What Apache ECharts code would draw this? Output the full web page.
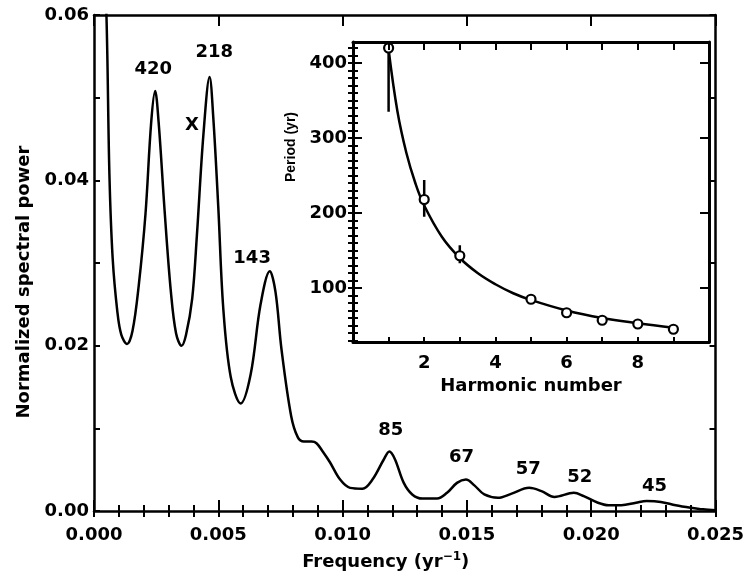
<!DOCTYPE html>
<html>
<head>
<meta charset="utf-8">
<script src="https://cdn.jsdelivr.net/npm/echarts@6/dist/echarts.min.js"></script>
<style>html,body{margin:0;padding:0;background:#fff;}#c{width:747px;height:577px;}</style>
</head>
<body>
<div id="c"></div>
<script>
// ---- Main spectrum ----
const freq = [0.0003,0.0005,0.00062,0.00075,0.00094,0.0011,0.00133,0.00155,0.0018,0.00207,0.0023,0.00246,0.0026,0.00285,0.00309,0.0033,0.00352,0.0037,0.00395,0.00414,0.0044,0.00465,0.0048,0.0050,0.0052,0.0055,0.0059,0.0063,0.0067,0.00707,0.0073,0.00754,0.00793,0.0082,0.00844,0.00875,0.00895,0.0092,0.00949,0.0099,0.0103,0.0108,0.0112,0.01165,0.01188,0.0121,0.01246,0.0128,0.0132,0.0138,0.0142,0.0146,0.01496,0.0153,0.0157,0.01625,0.0168,0.0175,0.0180,0.01852,0.0193,0.0197,0.02027,0.0207,0.02121,0.0218,0.02223,0.0228,0.0234,0.0240,0.0245,0.0250];
const power = [0.075,0.060,0.0407,0.0306,0.0241,0.0213,0.0202,0.0218,0.0273,0.0359,0.047,0.0508,0.047,0.0359,0.0266,0.0215,0.0200,0.0213,0.0257,0.0334,0.0455,0.0525,0.0475,0.0367,0.0245,0.0162,0.0130,0.0165,0.025,0.029,0.0265,0.0196,0.0115,0.0089,0.0084,0.0084,0.0082,0.0072,0.0059,0.0038,0.0028,0.0027,0.0038,0.0062,0.0072,0.0063,0.0034,0.0020,0.0015,0.0015,0.0022,0.0034,0.0038,0.0031,0.0020,0.0016,0.0021,0.0028,0.0024,0.0017,0.0022,0.0018,0.0010,0.0007,0.0007,0.0010,0.0012,0.0011,0.0007,0.0004,0.0002,0.0001];

// ---- Peak annotations ----
const peakText = ['420','218','X','143','85','67','57','52','45'];
const peakTextFreq = [0.00238,0.00484,0.00394,0.00636,0.01194,0.01478,0.01747,0.01954,0.02255];
const peakTextPower = [0.0534,0.0555,0.0467,0.0306,0.0098,0.0065,0.0050,0.0041,0.0030];

// ---- Inset ----
const harmonic = [1,2,3,5,6,7,8,9];
const period = [420,218,143,85,67,57,52,45];
const errHarmonic = [1,2,3];
const errLow = [335,195,133];
const errHigh = [430,244,157];
const fitN = [1,1.25,1.5,1.75,2,2.5,3,3.5,4,4.5,5,6,7,8,9];
const fitP = [418,335,280,240,210,168,140,120,105,93,84,70,60,53,47];

// tick labels / positions
const mainYTicks = ['0.00','0.02','0.04','0.06'];
const insetYLabels = [100,200,300,400];
const insetYMinor = [30,40,50,60,70,80,90,100,110,120,130,140,150,160,170,180,190,200,210,220,230,240,250,260,270,280,290,300,310,320,330,340,350,360,370,380,390,400,410,420];

const FONT = 'DejaVu Sans';
const black = '#000';
const tickLbl = {color: black, fontFamily: FONT, fontWeight: 'bold', fontSize: 18};

const chart = echarts.init(document.getElementById('c'), null, {renderer: 'canvas'});

const option = {
  animation: false,
  backgroundColor: '#fff',
  grid: [
    {left: 94, right: 12, top: 15, bottom: 66, containLabel: false},
    {left: 353, right: 38, top: 42, bottom: 235, show: false}
  ],
  xAxis: [
    {gridIndex: 0, type: 'value', position: 'bottom', min: 0, max: 0.025, interval: 0.005,
     axisLine: {show: true, onZero: false, lineStyle: {color: black, width: 2.5}},
     axisTick: {show: true, inside: true, length: 11, lineStyle: {color: black, width: 2}},
     axisLabel: Object.assign({margin: 15, formatter: v => v.toFixed(3)}, tickLbl),
     splitLine: {show: false},
     name: '{a|Frequency (yr}{s|−1}{a|)}', nameLocation: 'middle', nameGap: 40,
     nameTextStyle: {padding: [0, 38, 0, 0], rich: {
       a: {fontFamily: FONT, fontWeight: 'bold', fontSize: 18, color: black},
       s: {fontFamily: FONT, fontWeight: 'bold', fontSize: 12, color: black, padding: [0, 0, 10, 0]}
     }}},
    {gridIndex: 0, type: 'value', position: 'bottom', min: 0, max: 0.025, interval: 0.001,
     axisLine: {show: false}, axisLabel: {show: false}, splitLine: {show: false},
     axisTick: {show: true, inside: true, length: 6, lineStyle: {color: black, width: 2}}},
    {gridIndex: 0, type: 'value', position: 'top', min: 0, max: 0.025, interval: 0.005,
     axisLine: {show: true, onZero: false, lineStyle: {color: black, width: 2.5}},
     axisTick: {show: true, inside: true, length: 11, lineStyle: {color: black, width: 2}},
     axisLabel: {show: false}, splitLine: {show: false}},
    {gridIndex: 0, type: 'value', position: 'top', min: 0, max: 0.025, interval: 0.001,
     axisLine: {show: false}, axisLabel: {show: false}, splitLine: {show: false},
     axisTick: {show: true, inside: true, length: 6, lineStyle: {color: black, width: 2}}},
    // inset x
    {gridIndex: 1, type: 'value', position: 'bottom', min: 0, max: 10, interval: 1, z: 10,
     axisLine: {show: true, onZero: false, lineStyle: {color: black, width: 3}},
     axisTick: {show: true, inside: true, length: 5, lineStyle: {color: black, width: 2}},
     axisLabel: Object.assign({margin: 12, formatter: v => (v % 2 === 0 && v > 0 && v < 10) ? String(v) : ''}, tickLbl),
     splitLine: {show: false},
     name: 'Harmonic number', nameLocation: 'middle', nameGap: 35,
     nameTextStyle: {fontFamily: FONT, fontWeight: 'bold', fontSize: 18, color: black}},
    {gridIndex: 1, type: 'value', position: 'top', min: 0, max: 10, interval: 1, z: 10,
     axisLine: {show: true, onZero: false, lineStyle: {color: black, width: 3}},
     axisTick: {show: true, inside: true, length: 8, lineStyle: {color: black, width: 2}},
     axisLabel: {show: false}, splitLine: {show: false}}
  ],
  yAxis: [
    {gridIndex: 0, type: 'value', position: 'left', min: 0, max: 0.06, interval: 0.01,
     axisLine: {show: true, onZero: false, lineStyle: {color: black, width: 2.5}},
     axisTick: {show: true, inside: true, length: 6, lineStyle: {color: black, width: 2}},
     axisLabel: Object.assign({margin: 5, formatter: v => { const s = v.toFixed(2); return mainYTicks.indexOf(s) >= 0 ? s : ''; }}, tickLbl),
     splitLine: {show: false},
     name: 'Normalized spectral power', nameLocation: 'middle', nameGap: 57,
     nameTextStyle: {fontFamily: FONT, fontWeight: 'bold', fontSize: 18, color: black, padding: [0, 38, 0, 0]}},
    {gridIndex: 0, type: 'value', position: 'right', min: 0, max: 0.06, interval: 0.01,
     axisLine: {show: true, onZero: false, lineStyle: {color: black, width: 2.5}},
     axisTick: {show: true, inside: true, length: 6, lineStyle: {color: black, width: 2}},
     axisLabel: {show: false}, splitLine: {show: false}},
    // inset y
    {gridIndex: 1, type: 'value', position: 'left', min: 28, max: 428, z: 10,
     axisLine: {show: true, onZero: false, lineStyle: {color: black, width: 3}},
     axisTick: {show: true, inside: true, length: 9, customValues: insetYLabels, lineStyle: {color: black, width: 2}},
     axisLabel: Object.assign({margin: 6, customValues: insetYLabels}, tickLbl),
     splitLine: {show: false},
     name: 'Period (yr)', nameLocation: 'middle', nameGap: 55,
     nameTextStyle: {fontFamily: 'Liberation Sans', fontWeight: 'bold', fontSize: 14, color: black, padding: [0, 0, 0, 90]}},
    {gridIndex: 1, type: 'value', position: 'left', min: 28, max: 428, z: 10,
     axisLine: {show: false}, axisLabel: {show: false}, splitLine: {show: false},
     axisTick: {show: true, inside: true, length: 5, customValues: insetYMinor, lineStyle: {color: black, width: 2}}},
    {gridIndex: 1, type: 'value', position: 'right', min: 28, max: 428, z: 10,
     axisLine: {show: true, onZero: false, lineStyle: {color: black, width: 3}},
     axisTick: {show: true, inside: true, length: 9, customValues: insetYLabels, lineStyle: {color: black, width: 2}},
     axisLabel: {show: false}, splitLine: {show: false}},
    {gridIndex: 1, type: 'value', position: 'right', min: 28, max: 428, z: 10,
     axisLine: {show: false}, axisLabel: {show: false}, splitLine: {show: false},
     axisTick: {show: true, inside: true, length: 5, customValues: insetYMinor, lineStyle: {color: black, width: 2}}}
  ],
  series: [
    {type: 'line', xAxisIndex: 0, yAxisIndex: 0, data: freq.map((f, i) => [f, power[i]]),
     smooth: 0.35, showSymbol: false, clip: true,
     lineStyle: {color: black, width: 2.5}},
    {type: 'scatter', xAxisIndex: 0, yAxisIndex: 0, symbolSize: 0,
     itemStyle: {opacity: 1},
     data: peakText.map((t, i) => ({value: [peakTextFreq[i], peakTextPower[i]], name: t})),
     label: {show: true, position: 'inside', formatter: p => p.name, color: black, opacity: 1,
             fontFamily: FONT, fontWeight: 'bold', fontSize: 18}},
    // inset fit curve
    {type: 'line', xAxisIndex: 4, yAxisIndex: 2, data: fitN.map((n, i) => [n, fitP[i]]),
     smooth: 0.4, showSymbol: false, clip: true, z: 6,
     lineStyle: {color: black, width: 2.5}},
    // error bars
    {type: 'custom', xAxisIndex: 4, yAxisIndex: 2, z: 7, clip: true,
     data: errHarmonic.map((n, i) => [n, errLow[i], errHigh[i]]),
     renderItem: (params, api) => {
       const a = api.coord([api.value(0), api.value(1)]);
       const b = api.coord([api.value(0), api.value(2)]);
       return {type: 'line', shape: {x1: a[0], y1: a[1], x2: b[0], y2: b[1]},
               style: {stroke: black, lineWidth: 2.5}};
     }},
    {type: 'scatter', xAxisIndex: 4, yAxisIndex: 2, z: 8,
     data: harmonic.map((n, i) => [n, period[i]]),
     symbol: 'circle', symbolSize: 9,
     itemStyle: {color: '#fff', borderColor: black, borderWidth: 2.2, opacity: 1}}
  ]
};
chart.setOption(option);
</script>
</body>
</html>
